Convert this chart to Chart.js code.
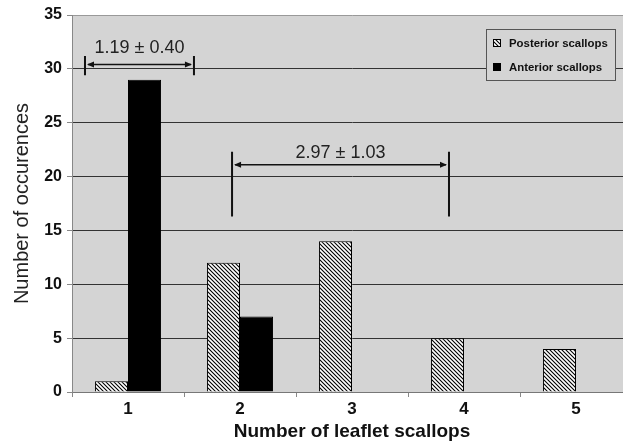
<!DOCTYPE html>
<html>
<head>
<meta charset="utf-8">
<script src="https://cdn.jsdelivr.net/npm/chart.js@4.4.0/dist/chart.umd.min.js"></script>
<style>
  html, body { margin: 0; padding: 0; background: #fff; overflow: hidden; }
  #wrap { width: 632px; height: 446px; }
</style>
</head>
<body>
<div id="wrap"><canvas id="c" width="632" height="446"></canvas></div>
<script>
const categories = ["1", "2", "3", "4", "5"];
const posterior = [1, 12, 14, 5, 4];
const anterior = [29, 7, 0, 0, 0];
const yTicks = [0, 5, 10, 15, 20, 25, 30, 35];

// range brackets: x in category units (1 = first category), y in data units
const ranges = [
  { text: "1.19 \u00b1 0.40", x0: 0.616, x1: 1.589, y: 30.4, yLo: 29.4, yHi: 31.2, textY: 31.9 },
  { text: "2.97 \u00b1 1.03", x0: 1.929, x1: 3.866, y: 21.1, yLo: 16.3, yHi: 22.3, textY: 22.2 },
];

const plotGray = "#d4d4d4";
const fontFam = "'Liberation Sans', Arial, sans-serif";

function makeHatch() {
  const p = document.createElement("canvas");
  p.width = 4;
  p.height = 4;
  const g = p.getContext("2d");
  g.fillStyle = "#fff";
  g.fillRect(0, 0, 4, 4);
  g.strokeStyle = "#000";
  g.lineWidth = 1.1;
  g.beginPath();
  g.moveTo(-1, -1); g.lineTo(5, 5);
  g.moveTo(-1, 3); g.lineTo(1, 5);
  g.moveTo(3, -1); g.lineTo(5, 1);
  g.stroke();
  return document.getElementById("c").getContext("2d").createPattern(p, "repeat");
}
const hatch = makeHatch();

const backgroundPlugin = {
  id: "plotBg",
  beforeDraw(chart) {
    const { ctx, chartArea: a } = chart;
    ctx.save();
    ctx.fillStyle = plotGray;
    ctx.fillRect(a.left, a.top, a.right - a.left, a.bottom - a.top);
    ctx.restore();
  },
};

function arrowHead(ctx, x, y, dir) {
  ctx.beginPath();
  ctx.moveTo(x, y);
  ctx.lineTo(x + dir * 7, y - 3);
  ctx.lineTo(x + dir * 7, y + 3);
  ctx.closePath();
  ctx.fill();
}

const rangePlugin = {
  id: "ranges",
  afterDatasetsDraw(chart) {
    const { ctx } = chart;
    const xs = chart.scales.x, ys = chart.scales.y;
    ctx.save();
    ctx.strokeStyle = "#111";
    ctx.fillStyle = "#111";
    ranges.forEach((r) => {
      const x0 = xs.getPixelForValue(r.x0 - 1);
      const x1 = xs.getPixelForValue(r.x1 - 1);
      const y = ys.getPixelForValue(r.y);
      ctx.lineWidth = 2;
      ctx.beginPath();
      ctx.moveTo(x0, ys.getPixelForValue(r.yLo));
      ctx.lineTo(x0, ys.getPixelForValue(r.yHi));
      ctx.moveTo(x1, ys.getPixelForValue(r.yLo));
      ctx.lineTo(x1, ys.getPixelForValue(r.yHi));
      ctx.stroke();
      ctx.lineWidth = 1.5;
      ctx.beginPath();
      ctx.moveTo(x0 + 3, y);
      ctx.lineTo(x1 - 3, y);
      ctx.stroke();
      arrowHead(ctx, x0 + 2, y, 1);
      arrowHead(ctx, x1 - 2, y, -1);
      ctx.font = "18px " + fontFam;
      ctx.textAlign = "center";
      ctx.textBaseline = "middle";
      ctx.fillStyle = "#222";
      ctx.fillText(r.text, (x0 + x1) / 2, ys.getPixelForValue(r.textY));
      ctx.fillStyle = "#111";
    });
    ctx.restore();
  },
};

const legendPlugin = {
  id: "boxLegend",
  afterDraw(chart) {
    const { ctx } = chart;
    const bx = 486, by = 29, bw = 129, bh = 51;
    ctx.save();
    ctx.fillStyle = plotGray;
    ctx.fillRect(bx, by, bw, bh);
    ctx.strokeStyle = "#555";
    ctx.lineWidth = 1;
    ctx.strokeRect(bx + 0.5, by + 0.5, bw, bh);
    ctx.font = "bold 11.4px " + fontFam;
    ctx.textBaseline = "middle";
    ctx.textAlign = "left";
    chart.data.datasets.forEach((ds, i) => {
      const sy = by + 10 + i * 24;
      ctx.fillStyle = ds.backgroundColor;
      ctx.fillRect(bx + 7, sy, 8, 8);
      ctx.strokeStyle = "#000";
      ctx.strokeRect(bx + 7.5, sy + 0.5, 7, 7);
      ctx.fillStyle = "#111";
      ctx.fillText(ds.label, bx + 23, sy + 4.5);
    });
    ctx.restore();
  },
};

new Chart(document.getElementById("c"), {
  type: "bar",
  data: {
    labels: categories,
    datasets: [
      {
        label: "Posterior scallops",
        data: posterior,
        backgroundColor: hatch,
        borderColor: "#000",
        borderWidth: 1,
        categoryPercentage: 0.59,
        barPercentage: 1,
      },
      {
        label: "Anterior scallops",
        data: anterior,
        backgroundColor: "#000",
        borderColor: "#000",
        borderWidth: 1,
        categoryPercentage: 0.59,
        barPercentage: 1,
      },
    ],
  },
  options: {
    responsive: false,
    animation: false,
    layout: { padding: { top: 15, right: 0, left: 0, bottom: 0 } },
    plugins: {
      legend: { display: false },
      tooltip: { enabled: false },
    },
    scales: {
      x: {
        afterFit(scale) { scale.height = 54; },
        grid: {
          drawOnChartArea: false,
          drawTicks: true,
          tickLength: 5,
          color: "#888",
        },
        border: { color: "#777", width: 1 },
        ticks: {
          padding: 2,
          color: "#111",
          font: { family: fontFam, size: 17, weight: "bold" },
        },
        title: {
          display: true,
          text: "Number of leaflet scallops",
          color: "#111",
          padding: { top: 0, bottom: 3 },
          font: { family: fontFam, size: 19, weight: "bold" },
        },
      },
      y: {
        min: 0,
        max: 35,
        afterFit(scale) { scale.width = 72; },
        afterBuildTicks(scale) { scale.ticks = yTicks.map((v) => ({ value: v })); },
        grid: {
          color: (c) => (c.tick && c.tick.value === 35 ? "#999" : "#333"),
          tickLength: 5,
          tickColor: "#888",
        },
        border: { color: "#888", width: 1 },
        ticks: {
          padding: 5,
          color: "#111",
          font: { family: fontFam, size: 16, weight: "bold" },
        },
        title: {
          display: true,
          text: "Number of occurences",
          color: "#222",
          padding: { top: 10, bottom: 0 },
          font: { family: fontFam, size: 20 },
        },
      },
    },
  },
  plugins: [backgroundPlugin, rangePlugin, legendPlugin],
});
</script>
</body>
</html>
